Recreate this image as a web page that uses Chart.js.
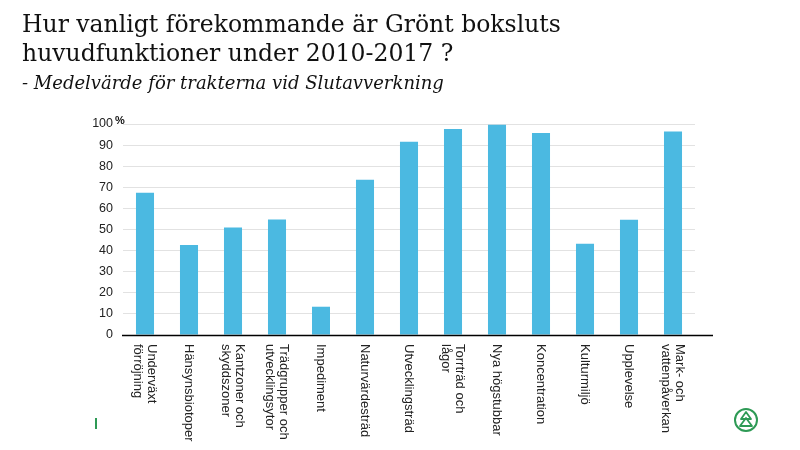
<!DOCTYPE html>
<html>
<head>
<meta charset="utf-8">
<script src="https://cdn.jsdelivr.net/npm/chart.js@4"></script>
<style>
  html, body { margin: 0; padding: 0; background: #fff; }
  #wrap { position: relative; width: 800px; height: 450px; overflow: hidden; }
  #title { position: absolute; left: 22px; top: 10px; font-family: 'DejaVu Serif', serif; font-size: 23.5px; line-height: 29px; color: #111; }
  #subtitle { position: absolute; left: 22px; top: 72px; font-family: 'DejaVu Serif', serif; font-style: italic; font-size: 18px; color: #111; }
  #chart { position: absolute; left: 0; top: 0; }
  #mark { position: absolute; left: 95px; top: 418px; width: 2px; height: 11px; background: #2e9a55; }
  #logo { position: absolute; left: 733px; top: 407px; }
</style>
</head>
<body>
<div id="wrap">
  <canvas id="chart" width="800" height="450"></canvas>
  <div id="title">Hur vanligt förekommande är Grönt boksluts<br>huvudfunktioner under 2010-2017 ?</div>
  <div id="subtitle">- Medelvärde för trakterna vid Slutavverkning</div>
  <div id="mark"></div>
  <svg id="logo" width="26" height="26" viewBox="0 0 26 26">
    <circle cx="13" cy="13" r="11" fill="none" stroke="#2e9a55" stroke-width="2"/>
    <path d="M13 5 L8 12 L18 12 Z M13 11 L7 19 L19 19 Z" fill="none" stroke="#2e9a55" stroke-width="1.8" stroke-linejoin="round"/>
  </svg>
</div>
<script>
// categories (multi-line labels) and values in percent
const categories = [
    ['Underväxt', 'förröjning'],
    ['Hänsynsbiotoper'],
    ['Kantzoner och', 'skyddszoner'],
    ['Trädgrupper och', 'utvecklingsytor'],
    ['Impediment'],
    ['Naturvärdesträd'],
    ['Utvecklingsträd'],
    ['Torrträd och', 'lågor'],
    ['Nya högstubbar'],
    ['Koncentration'],
    ['Kulturmiljö'],
    ['Upplevelse'],
    ['Mark- och', 'vattenpåverkan']
];
const values = [67.4, 42.6, 51, 54.7, 13.4, 73.6, 91.6, 97.6, 99.7, 95.7, 43.2, 54.6, 96.4];
const yTicks = [0, 10, 20, 30, 40, 50, 60, 70, 80, 90, 100];
const unitLabel = '%';

const labelFont = "13px 'Liberation Sans', Arial, sans-serif";

// draws rotated category labels, baseline and unit sign
const decorPlugin = {
    id: 'decor',
    afterDraw(chart) {
        const ctx = chart.ctx;
        const area = chart.chartArea;
        const xs = chart.scales.x;
        const ys = chart.scales.y;

        ctx.save();
        ctx.strokeStyle = '#000';
        ctx.lineWidth = 1.5;
        ctx.beginPath();
        ctx.moveTo(area.left - 1, ys.getPixelForValue(0) + 0.5);
        ctx.lineTo(area.right + 18, ys.getPixelForValue(0) + 0.5);
        ctx.stroke();

        ctx.fillStyle = '#222';
        ctx.font = labelFont;
        ctx.textAlign = 'left';
        ctx.textBaseline = 'middle';
        const lineH = 14;
        categories.forEach((lines, i) => {
            const x = xs.getPixelForTick(i);
            ctx.save();
            ctx.translate(x + (lines.length - 1) * lineH / 2, area.bottom + 9);
            ctx.rotate(Math.PI / 2);
            lines.forEach((t, j) => {
                ctx.fillText(t, 0, j * lineH);
            });
            ctx.restore();
        });

        ctx.font = "bold 11px 'Liberation Sans', Arial, sans-serif";
        ctx.fillStyle = '#111';
        ctx.fillText(unitLabel, area.left - 8, ys.getPixelForValue(100) - 3);
        ctx.restore();
    }
};

new Chart(document.getElementById('chart').getContext('2d'), {
    type: 'bar',
    data: {
        labels: categories.map(c => c.join(' ')),
        datasets: [{
            data: values,
            backgroundColor: '#4bb9e1',
            barPercentage: 0.41,
            categoryPercentage: 1.0
        }]
    },
    options: {
        responsive: false,
        animation: false,
        layout: { padding: { top: 124, right: 105, bottom: 115, left: 0 } },
        plugins: { legend: { display: false }, tooltip: { enabled: false } },
        scales: {
            x: {
                ticks: { display: false },
                grid: { display: false },
                border: { display: false },
                afterFit(scale) { scale.height = 0; }
            },
            y: {
                min: 0,
                max: 100,
                afterBuildTicks(scale) { scale.ticks = yTicks.map(v => ({ value: v })); },
                afterFit(scale) { scale.width = 123; },
                ticks: {
                    padding: 10,
                    color: '#222',
                    font: { family: "'Liberation Sans', Arial, sans-serif", size: 12.5 }
                },
                grid: {
                    color: (c) => c.tick && c.tick.value === 0 ? 'rgba(0,0,0,0)' : '#e2e2e2',
                    drawTicks: false
                },
                border: { display: false }
            }
        }
    },
    plugins: [decorPlugin]
});
</script>
</body>
</html>
